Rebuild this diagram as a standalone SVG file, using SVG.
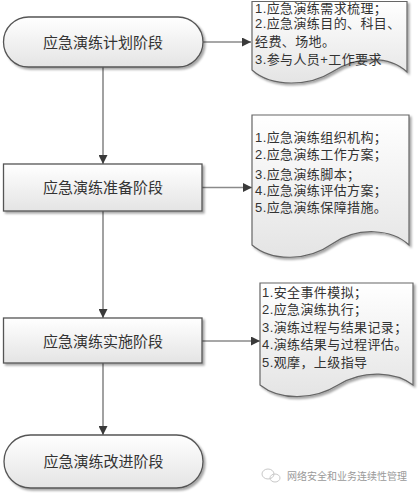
<svg xmlns="http://www.w3.org/2000/svg" width="418" height="494" viewBox="0 0 418 494">
  <defs>
    <linearGradient id="g" x1="0" y1="0" x2="0" y2="1">
      <stop offset="0" stop-color="#ffffff"/>
      <stop offset="1" stop-color="#e4e4e4"/>
    </linearGradient>
    <filter id="sh" x="-10%" y="-10%" width="130%" height="140%">
      <feDropShadow dx="2" dy="2" stdDeviation="1.2" flood-color="#000" flood-opacity="0.35"/>
    </filter>
    <marker id="arr" viewBox="0 0 10 10" refX="10" refY="5" markerWidth="9" markerHeight="9" markerUnits="userSpaceOnUse" orient="auto">
      <path d="M0,0 L10,5 L0,10 z" fill="#3a3a3a"/>
    </marker>
    <style>
      .shape { fill: url(#g); stroke: #555; stroke-width: 1.3; filter: url(#sh); }
      .doc { fill: url(#g); stroke: #666; stroke-width: 1.2; filter: url(#sh); }
      .conn { fill: none; stroke: #8a8a8a; stroke-width: 1.6; marker-end: url(#arr); }
      .lbl { font-family: "Liberation Sans", "Noto Sans CJK SC", sans-serif; font-size: 15px; fill: #333; text-anchor: middle; }
      .dt { font-family: "Liberation Sans", "Noto Sans CJK SC", sans-serif; font-size: 13px; letter-spacing: 0.4px; fill: #333; }
      .wm { font-family: "Noto Sans CJK SC", sans-serif; font-size: 10px; fill: #9a9a9a; }
    </style>
  </defs>

  <g id="connectors">
    <path class="conn" d="M203,42 H251"/>
    <path class="conn" d="M103,67 V164"/>
    <path class="conn" d="M202,187.5 H252"/>
    <path class="conn" d="M103,211 V318"/>
    <path class="conn" d="M202,341 H260"/>
    <path class="conn" d="M103,363 V435"/>
  </g>

  <g id="node-plan">
    <rect class="shape" x="3.5" y="17" width="199.5" height="50" rx="25" ry="25"/>
    <text class="lbl" x="103" y="47.5">应急演练计划阶段</text>
  </g>

  <g id="node-prepare">
    <rect class="shape" x="3.5" y="164" width="198.5" height="47"/>
    <text class="lbl" x="103" y="192.5">应急演练准备阶段</text>
  </g>

  <g id="node-implement">
    <rect class="shape" x="3.5" y="318" width="198.5" height="45"/>
    <text class="lbl" x="103" y="346.5">应急演练实施阶段</text>
  </g>

  <g id="node-improve">
    <rect class="shape" x="4" y="435" width="199" height="53" rx="26.5" ry="26.5"/>
    <text class="lbl" x="103.5" y="467">应急演练改进阶段</text>
  </g>

  <g id="doc-plan">
    <path class="doc" d="M252,1.5 H407 V72 C390,56 358,55 332,72 C310,86 272,88 252,70 Z"/>
    <text class="dt" x="255" y="12.5">1.应急演练需求梳理；</text>
    <text class="dt" x="255" y="28">2.应急演练目的、科目、</text>
    <text class="dt" x="255" y="46">经费、场地。</text>
    <text class="dt" x="255" y="63.5">3.参与人员+工作要求</text>
  </g>

  <g id="doc-prepare">
    <path class="doc" d="M252,115 H409 V245 C392,229 358,226 332,244 C308,261 272,262 252,245 Z"/>
    <text class="dt" x="255" y="141.5">1.应急演练组织机构；</text>
    <text class="dt" x="255" y="158.5">2.应急演练工作方案；</text>
    <text class="dt" x="255" y="178.5">3.应急演练脚本；</text>
    <text class="dt" x="255" y="194.5">4.应急演练评估方案；</text>
    <text class="dt" x="255" y="211.5">5.应急演练保障措施。</text>
  </g>

  <g id="doc-implement">
    <path class="doc" d="M260,283 H413 V385 C396,372 364,369 338,385 C314,400 280,401 260,385 Z"/>
    <text class="dt" x="262" y="296.5">1.安全事件模拟；</text>
    <text class="dt" x="262" y="314">2.应急演练执行；</text>
    <text class="dt" x="262" y="331.5">3.演练过程与结果记录；</text>
    <text class="dt" x="262" y="349">4.演练结果与过程评估。</text>
    <text class="dt" x="262" y="366.5">5.观摩，上级指导</text>
  </g>

  <g id="watermark">
    <ellipse cx="268" cy="474" rx="6" ry="5" fill="none" stroke="#c8c8c8" stroke-width="1"/>
    <ellipse cx="275" cy="478" rx="5" ry="4" fill="none" stroke="#c8c8c8" stroke-width="1"/>
    <text class="wm" x="287" y="480">网络安全和业务连续性管理</text>
  </g>
</svg>
